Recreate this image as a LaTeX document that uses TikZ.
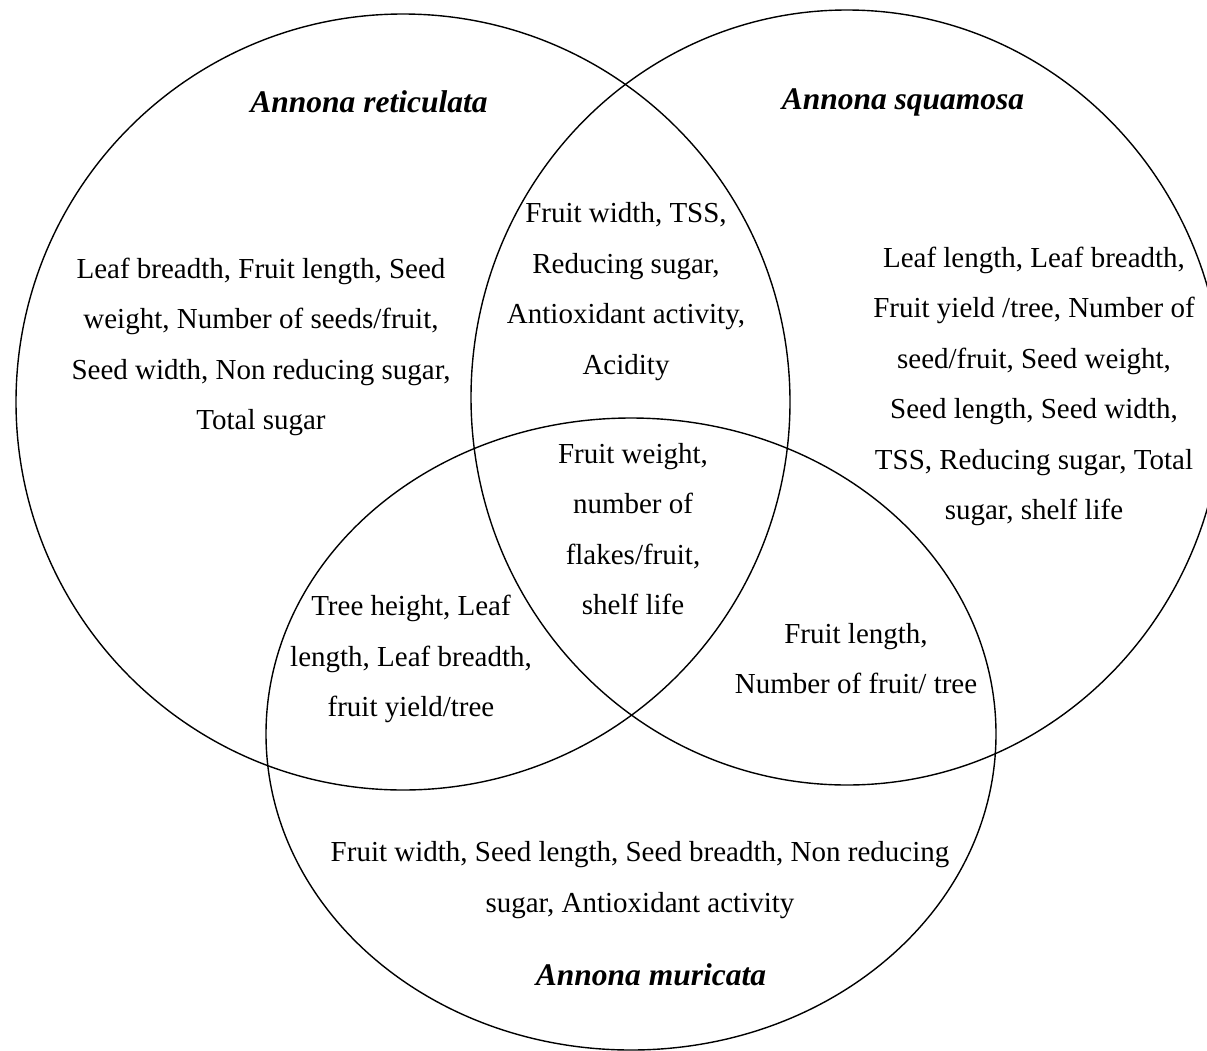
\documentclass[tikz,border=0pt]{standalone}
\usepackage{fontspec}
\setmainfont{Liberation Serif}
\begin{document}
\begin{tikzpicture}[x=1pt,y=-1pt,
  ring/.style={draw=black,line width=1.4pt},
  txt/.style={align=center,inner sep=0pt,font=\fontsize{29}{50.5}\selectfont},
  ttl/.style={inner sep=0pt,font=\fontsize{31.5}{50.5}\selectfont\bfseries\itshape}]
\useasboundingbox (0,0) rectangle (1207,1050);
\clip (0,0) rectangle (1207,1050);
\fill[white] (0,0) rectangle (1207,1050);
% circles
\draw[ring] (403,402) ellipse [x radius=387pt, y radius=388pt];
\draw[ring] (847,397.5) ellipse [x radius=376pt, y radius=387.5pt];
\draw[ring] (631,734) ellipse [x radius=365pt, y radius=316pt];
% titles
\node[ttl] (tret) at (369,102) {Annona reticulata};
\node[ttl] (tsqu) at (903,102) {Annona squamosa};
\node[ttl] (tmur) at (651,975) {Annona muricata};
% regions
\node[txt] (ret) at (261,347) {Leaf breadth, Fruit length, Seed\\weight, Number of seeds/fruit,\\Seed width, Non reducing sugar,\\Total sugar};
\node[txt] (rs) at (626,291.5) {Fruit width, TSS,\\Reducing sugar,\\Antioxidant activity,\\Acidity};
\node[txt] (squ) at (1034,386.5) {Leaf length, Leaf breadth,\\Fruit yield /tree, Number of\\seed/fruit, Seed weight,\\Seed length, Seed width,\\TSS, Reducing sugar, Total\\sugar, shelf life};
\node[txt] (all) at (633,529) {Fruit weight,\\number of\\flakes/fruit,\\shelf life};
\node[txt] (rm) at (411,659) {Tree height, Leaf\\length, Leaf breadth,\\fruit yield/tree};
\node[txt] (sm) at (856,658.5) {Fruit length,\\Number of fruit/ tree};
\node[txt] (mur) at (640,880) {Fruit width, Seed length, Seed breadth, Non reducing\\sugar, Antioxidant activity};
\end{tikzpicture}
\end{document}
